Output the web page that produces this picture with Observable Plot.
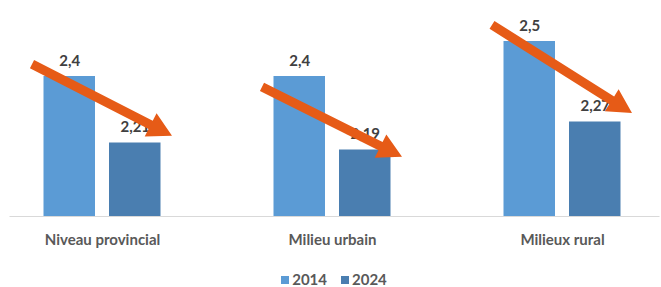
<!DOCTYPE html>
<html>
<head>
<meta charset="utf-8">
<script src="https://cdn.jsdelivr.net/npm/d3@7"></script>
<script src="https://cdn.jsdelivr.net/npm/@observablehq/plot@0.6"></script>
<style>
  html, body { margin: 0; padding: 0; background: #fff; }
  #wrap { position: relative; width: 661px; height: 287px; font-family: Lato, "Liberation Sans", sans-serif; }
  #legend { position: absolute; left: 0; top: 272px; width: 661px; height: 15px; display: flex; justify-content: center; align-items: center; gap: 14px; padding-left: 7px; box-sizing: border-box; font-size: 15px; font-weight: bold; color: #595959; line-height: 15px; }
  .item { display: flex; align-items: center; gap: 3px; }
  .sw { width: 8px; height: 8px; display: inline-block; }
</style>
</head>
<body>
<div id="wrap"><div id="chart"></div><div id="legend"></div></div>
<script>
// ---- data ----
const categories = ["Niveau provincial", "Milieu urbain", "Milieux rural"];
const years = ["2014", "2024"];
const values2014 = [2.4, 2.4, 2.5];
const values2024 = [2.21, 2.19, 2.27];
const yDomain = [2, 2.6];
// annotation arrows (value at tail, value at head)
const arrowFrom = [2.434, 2.369, 2.546];
const arrowTo = [2.229, 2.169, 2.294];

const colors = ["#5B9BD5", "#4A7EB0"];
const arrowColor = "#E65B17";

const fmt = v => String(v).replace(".", ",");
const rows2014 = categories.map((c, i) => ({category: c, year: years[0], value: values2014[i]}));
const rows2024 = categories.map((c, i) => ({category: c, year: years[1], value: values2024[i]}));
const arrows = categories.map((c, i) => ({category: c, from: arrowFrom[i], to: arrowTo[i]}));

const barW = 51.5, offset = 32.75;

function arrowRender(index, scales, values) {
  const half = scales.x && scales.x.bandwidth ? scales.x.bandwidth() / 2 : 0;
  const g = d3.create("svg:g");
  const w = 4.6, h = 13, L = 24;
  for (const i of index) {
    const cx = values.x1[i] + half;
    const T = [cx - 70, values.y1[i]];
    const P = [cx + 70, values.y2[i]];
    const dx = P[0] - T[0], dy = P[1] - T[1];
    const len = Math.hypot(dx, dy);
    const u = [dx / len, dy / len], n = [-u[1], u[0]];
    const B = [P[0] - u[0] * L, P[1] - u[1] * L];
    const pts = [
      [T[0] + n[0] * w, T[1] + n[1] * w],
      [B[0] + n[0] * w, B[1] + n[1] * w],
      [B[0] + n[0] * h, B[1] + n[1] * h],
      P,
      [B[0] - n[0] * h, B[1] - n[1] * h],
      [B[0] - n[0] * w, B[1] - n[1] * w],
      [T[0] - n[0] * w, T[1] - n[1] * w]
    ];
    g.append("path").attr("d", "M" + pts.map(p => p.join(",")).join("L") + "Z").attr("fill", arrowColor);
  }
  return g.node();
}

const chart = Plot.plot({
  width: 661,
  height: 258,
  marginLeft: 9.5,
  marginRight: 7.5,
  marginTop: 6,
  marginBottom: 42,
  style: {fontFamily: "Lato, 'Liberation Sans', sans-serif", fontSize: "15px", fontWeight: "bold", color: "#595959", background: "#fff"},
  x: {domain: categories, paddingInner: 0.2, paddingOuter: 0, axis: null},
  y: {domain: yDomain, axis: null},
  marks: [
    Plot.ruleY([yDomain[0]], {stroke: "#d9d9d9", strokeWidth: 1.2, insetRight: -6}),
    Plot.barY(rows2014, {x: "category", y: "value", fill: colors[0], dx: -offset, insetLeft: (184 - barW) / 2, insetRight: (184 - barW) / 2, clip: true}),
    Plot.barY(rows2024, {x: "category", y: "value", fill: colors[1], dx: offset, insetLeft: (184 - barW) / 2, insetRight: (184 - barW) / 2, clip: true}),
    Plot.text(rows2014, {x: "category", y: "value", text: d => fmt(d.value), dx: -offset, dy: -11, lineAnchor: "bottom", fill: "#404040", fontSize: 15, fontWeight: "bold"}),
    Plot.text(rows2024, {x: "category", y: "value", text: d => fmt(d.value), dx: offset, dy: -11, lineAnchor: "bottom", fill: "#404040", fontSize: 15, fontWeight: "bold"}),
    Plot.link(arrows, {x1: "category", x2: "category", y1: "from", y2: "to", stroke: arrowColor, render: arrowRender}),
    Plot.axisX({tickSize: 0, tickPadding: 18, fontSize: 15, fontWeight: "bold", fill: "#595959", label: null})
  ]
});
document.getElementById("chart").appendChild(chart);

const legend = document.getElementById("legend");
years.forEach((y, i) => {
  const it = document.createElement("span");
  it.className = "item";
  it.innerHTML = `<span class="sw" style="background:${colors[i]}"></span><span>${y}</span>`;
  legend.appendChild(it);
});
</script>
</body>
</html>
